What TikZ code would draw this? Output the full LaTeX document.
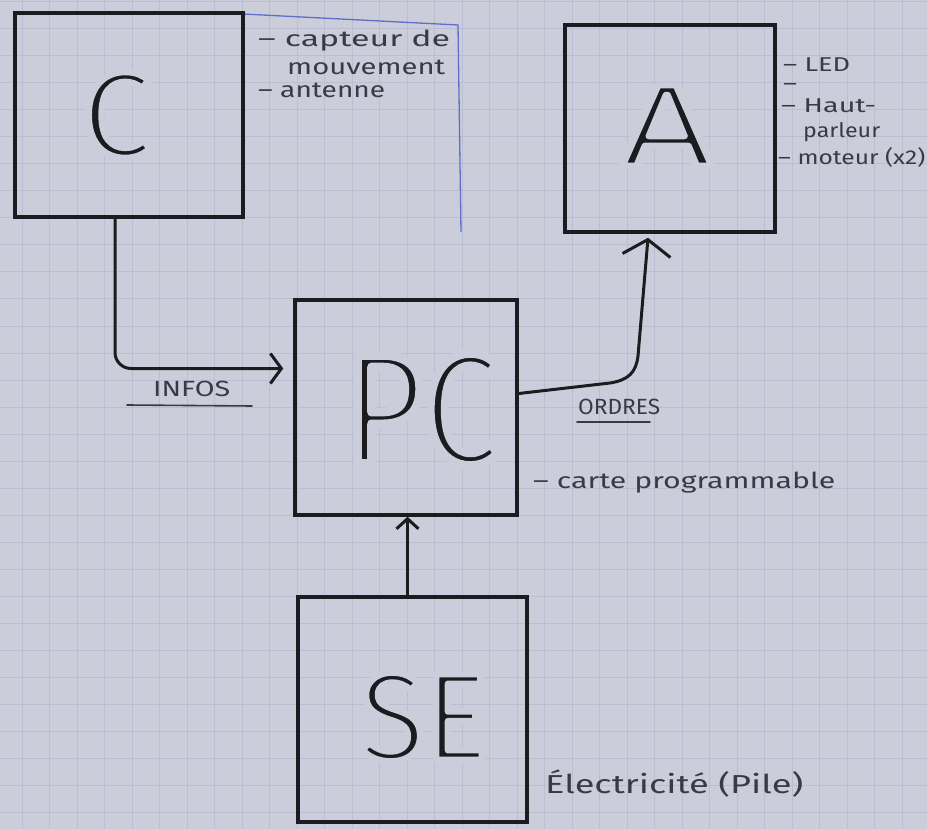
\documentclass[tikz,border=0pt]{standalone}
\usepackage{fontspec}
\usepackage{graphicx}
\setmainfont{Fira Sans}
\usetikzlibrary{arrows.meta}
\definecolor{paper}{RGB}{203,206,218}
\definecolor{gridc}{RGB}{186,190,208}
\definecolor{ink}{RGB}{28,28,32}
\definecolor{pencil}{RGB}{58,58,70}
\definecolor{bluepen}{RGB}{95,110,200}
\newcommand{\hstretch}[2]{\resizebox{#1}{\height}{#2}}
\newcommand{\thinglyph}[2]{\special{pdf:literal direct 2 Tr #1 w 1 j 0.796 0.808 0.855 RG}#2\special{pdf:literal direct 0 Tr}}
\newcommand{\bigtxt}[4]{\resizebox{#1}{#2}{\thinglyph{#3}{#4}}}
\begin{document}
\begin{tikzpicture}[x=1pt,y=1pt,
  box/.style={draw=ink, line width=3.5pt, inner sep=0pt},
  bigl/.style={inner sep=0pt, text=ink},
  conn/.style={draw=ink, line width=3pt, line cap=round, line join=round},
  lbl/.style={anchor=base west, inner sep=0pt, text=pencil, font=\fontsize{22}{22}\selectfont},
  albl/.style={lbl, font=\fontsize{20}{20}\selectfont},
  uline/.style={draw=pencil, line width=1.6pt, line cap=round}]
\useasboundingbox (0,0) rectangle (927,-829);
\fill[paper] (0,0) rectangle (927,-829);
\foreach \i in {0,...,33} \draw[gridc, line width=1pt] ({22+27.5*\i},0) -- ++(0,-829);
\foreach \j in {0,...,30} \draw[gridc, line width=1pt] (0,{-(2+27*\j)}) -- ++(927,0);

% blue margin line
\draw[bluepen, line width=1.3pt] (243,-14) -- (458,-25) -- (461,-232);

% boxes
\node[box, minimum width=228pt, minimum height=204pt] (c) at (129,-115) {};
\node[box, minimum width=210pt, minimum height=207pt] (a) at (670,-128.5) {};
\node[box, minimum width=222pt, minimum height=215pt] (pc) at (406,-407.5) {};
\node[box, minimum width=229pt, minimum height=225pt] (se) at (412.5,-709.5) {};

% big letters
\node[bigl] (ct) at ([xshift=-12pt]c.center) {\bigtxt{70pt}{84pt}{0.5}{C}};
\node[bigl] (at) at ([xshift=-3pt,yshift=3pt]a.center) {\bigtxt{92pt}{80pt}{0.5}{A}};
\node[bigl] (pct) at ([xshift=16pt,yshift=-2pt]pc.center) {\bigtxt{155pt}{110pt}{0.55}{PC}};
\node[bigl] (set) at ([xshift=11.5pt,yshift=-7.5pt]se.center) {\bigtxt{128pt}{87pt}{0.5}{SE}};

% connectors
\coordinate (cOut) at ([xshift=-14pt]c.south);
\coordinate (pcIn) at ([xshift=-10pt,yshift=39pt]pc.west);
\draw[conn, rounded corners=16pt, -{Straight Barb[length=11pt,width=30pt]}] (cOut) |- (pcIn);

\coordinate (pcOut) at ([yshift=14pt]pc.east);
\coordinate (aIn) at ([xshift=-22pt,yshift=-4pt]a.south);
\draw[conn, -{Straight Barb[length=16pt,width=48pt]}] (pcOut) -- (610,-383)
  .. controls (629,-380) and (636,-372) .. (638,-356) -- (aIn);

\coordinate (seOut) at ([xshift=-5pt]se.north);
\draw[conn, -{Straight Barb[length=10pt,width=22pt]}] (seOut) -- (seOut |- pc.south);

% labels of C
\node[lbl] (l1) at (258,-47) {\hstretch{192pt}{– capteur de}};
\node[lbl] (l2) at (287,-75) {\hstretch{158pt}{mouvement}};
\node[lbl] (l3) at (258,-98) {\hstretch{127pt}{– antenne}};

% labels of A
\node[albl] (l4) at (783,-72) {\hstretch{67pt}{– LED}};
\node[albl] (l5) at (783,-91) {\hstretch{14pt}{–}};
\node[albl] (l6) at (781,-113) {\hstretch{95pt}{– Haut-}};
\node[albl] (l7) at (803,-138) {\hstretch{77pt}{parleur}};
\node[albl] (l8) at (778,-165) {\hstretch{147pt}{– moteur (x2)}};

% flow labels
\node[lbl] (infos) at (153,-396) {\hstretch{77pt}{INFOS}};
\draw[uline] (127,-405) -- (252,-406);
\node[lbl] (ordres) at (578,-414) {\hstretch{82pt}{ORDRES}};
\draw[uline] (577,-422) -- (650,-422);

\node[lbl] (l9) at (533,-488) {\hstretch{302pt}{– carte programmable}};
\node[lbl, font=\fontsize{26}{26}\selectfont] (l10) at (545,-793) {\hstretch{258pt}{Électricité (Pile)}};
\end{tikzpicture}
\end{document}
